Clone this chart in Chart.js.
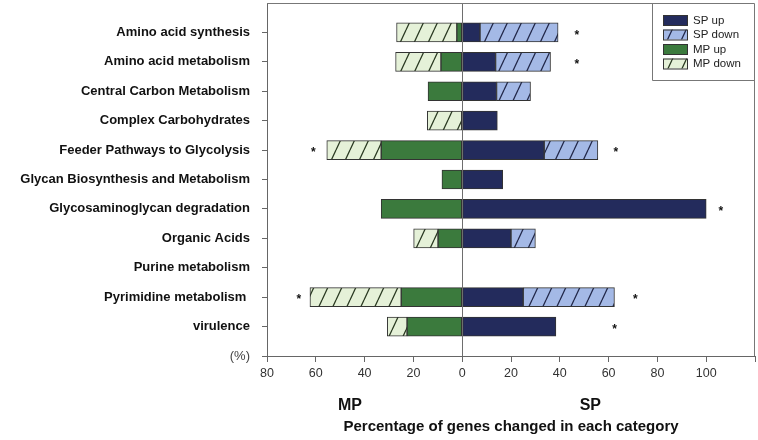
<!DOCTYPE html>
<html>
<head>
<meta charset="utf-8">
<script src="https://cdn.jsdelivr.net/npm/chart.js@4.4.0/dist/chart.umd.min.js"></script>
<style>
  body { margin: 0; background: #fff; }
  #wrap { width: 758px; height: 440px; }
</style>
</head>
<body>
<div id="wrap"><canvas id="chart" width="758" height="440"></canvas></div>
<script>
// categories (top to bottom)
const categories = [
    'Amino acid synthesis', 'Amino acid metabolism', 'Central Carbon Metabolism',
    'Complex Carbohydrates', 'Feeder Pathways to Glycolysis', 'Glycan Biosynthesis and Metabolism',
    'Glycosaminoglycan degradation', 'Organic Acids', 'Purine metabolism',
    'Pyrimidine metabolism ', 'virulence'
];

// % of genes, SP side (right)
const spUp   = [7.3, 13.7, 14.1, 14.4, 33.6, 16.6, 100, 20, null, 25, 38.4];
const spDown = [32, 22.5, 13.9, null, 22, null, null, 10, null, 37.4, null];
// % of genes, MP side (left, plotted negative)
const mpUp   = [2.2, 8.7, 14, null, 33.2, 8.3, 33.2, 9.9, null, 25, 22.6];
const mpDown = [24.7, 18.6, null, 14.3, 22.3, null, null, 10, null, 37.4, 8.1];

// significance marks (x position of the *)
const spStar = [47, 47, null, null, 63, null, 106, null, null, 71, 62.5];
const mpStar = [null, null, null, null, -61, null, null, null, null, -67, null];

const xTicks = [-80, -60, -40, -20, 0, 20, 40, 60, 80, 100];

const FONT = '"Liberation Sans", Arial, sans-serif';
const canvas = document.getElementById('chart');
const mainCtx = canvas.getContext('2d');

// motif hachuré "/"
function makeHatch(bg, line) {
    const w = 14, h = 30;
    const c = document.createElement('canvas');
    c.width = w; c.height = h;
    const g = c.getContext('2d');
    g.fillStyle = bg;
    g.fillRect(0, 0, w, h);
    g.strokeStyle = line;
    g.lineWidth = 1.3;
    g.beginPath();
    [-w, 0, w].forEach(o => { g.moveTo(o, h); g.lineTo(o + w, 0); });
    g.stroke();
    return mainCtx.createPattern(c, 'repeat');
}

const colSpUp = '#232b5c';
const colSpDown = makeHatch('#a4b9e6', '#22284a');
const colMpUp = '#3b7a3d';
const colMpDown = makeHatch('#e5f1d8', '#2a3a22');

const legendItems = [
    { label: 'SP up', color: colSpUp },
    { label: 'SP down', color: colSpDown },
    { label: 'MP up', color: colMpUp },
    { label: 'MP down', color: colMpDown }
];

const labels = [''].concat(categories, ['(%)']);
const pad = arr => [null].concat(arr, [null]);
const neg = arr => arr.map(v => v === null ? null : -v);

const extras = {
    id: 'extras',
    afterDatasetsDraw(chart) {
        const { ctx, chartArea: a, scales: { x } } = chart;
        const zx = Math.floor(x.getPixelForValue(0)) + 0.5;
        ctx.save();
        ctx.strokeStyle = '#6e6e6e';
        ctx.lineWidth = 1;
        ctx.beginPath();
        ctx.moveTo(zx, a.top);
        ctx.lineTo(zx, a.bottom);
        ctx.stroke();
        ctx.restore();
    },
    afterDraw(chart) {
        const { ctx, chartArea: a, scales: { x, y } } = chart;
        ctx.save();
        // cadre haut et droite
        ctx.strokeStyle = '#777';
        ctx.lineWidth = 1;
        ctx.beginPath();
        ctx.moveTo(a.left, a.top + 0.5);
        ctx.lineTo(a.right - 0.5, a.top + 0.5);
        ctx.lineTo(a.right - 0.5, a.bottom);
        ctx.stroke();

        // astérisques
        ctx.fillStyle = '#111';
        ctx.font = 'bold 12px ' + FONT;
        ctx.textAlign = 'center';
        ctx.textBaseline = 'middle';
        categories.forEach((c, i) => {
            const yy = y.getPixelForValue(i + 1) + 3;
            [spStar[i], mpStar[i]].forEach(v => {
                if (v !== null) ctx.fillText('*', x.getPixelForValue(v), yy);
            });
        });

        // MP / SP
        ctx.fillStyle = '#111';
        ctx.font = 'bold 16px ' + FONT;
        ctx.fillText('MP', x.getPixelForValue(-46), 406);
        ctx.fillText('SP', x.getPixelForValue(52.5), 406);

        // légende
        const lx = 652;
        const lb = 80;
        ctx.fillStyle = '#fff';
        ctx.fillRect(lx + 1, a.top + 1, a.right - lx - 2, lb - a.top - 1);
        ctx.strokeStyle = '#777';
        ctx.beginPath();
        ctx.moveTo(lx + 0.5, a.top);
        ctx.lineTo(lx + 0.5, lb + 0.5);
        ctx.lineTo(a.right, lb + 0.5);
        ctx.stroke();
        ctx.font = '11.5px ' + FONT;
        ctx.textAlign = 'left';
        legendItems.forEach((it, i) => {
            const cy = 20 + i * 14.5;
            ctx.fillStyle = it.color;
            ctx.fillRect(663, cy - 5, 24, 10);
            ctx.strokeStyle = '#333';
            ctx.strokeRect(663.5, cy - 4.5, 24, 10);
            ctx.fillStyle = '#222';
            ctx.fillText(it.label, 693, cy + 0.5);
        });
        ctx.restore();
    }
};

const common = { borderColor: '#333', borderWidth: 1, borderSkipped: false, barThickness: 19 };

new Chart(mainCtx, {
    type: 'bar',
    data: {
        labels: labels,
        datasets: [
            Object.assign({ label: 'SP up', data: pad(spUp), backgroundColor: colSpUp }, common),
            Object.assign({ label: 'SP down', data: pad(spDown), backgroundColor: colSpDown }, common),
            Object.assign({ label: 'MP up', data: pad(neg(mpUp)), backgroundColor: colMpUp }, common),
            Object.assign({ label: 'MP down', data: pad(neg(mpDown)), backgroundColor: colMpDown }, common)
        ]
    },
    options: {
        indexAxis: 'y',
        responsive: false,
        animation: false,
        layout: { padding: { left: 0, right: 3, top: 3, bottom: 0 } },
        plugins: {
            legend: { display: false },
            tooltip: { enabled: false }
        },
        scales: {
            x: {
                stacked: true,
                min: -80,
                max: 120,
                afterFit: s => { s.height = 84; s.paddingRight = 0; },
                afterBuildTicks: s => { s.ticks = xTicks.concat([120]).map(v => ({ value: v })); },
                ticks: {
                    autoSkip: false,
                    maxRotation: 0,
                    padding: 4,
                    color: '#333',
                    font: { family: FONT, size: 12.5 },
                    callback: v => v === 120 ? '' : String(Math.abs(v))
                },
                grid: {
                    color: 'transparent',
                    tickColor: '#666',
                    tickLength: 6
                },
                border: { color: '#666' },
                title: {
                    display: true,
                    text: 'Percentage of genes changed in each category',
                    color: '#111',
                    font: { family: FONT, size: 15, weight: 'bold' },
                    padding: { top: 0, bottom: 4 }
                }
            },
            y: {
                stacked: true,
                offset: false,
                afterFit: s => { s.width = 267; s.paddingTop = 0; s.paddingBottom = 0; },
                ticks: {
                    autoSkip: false,
                    padding: 12,
                    color: ctx => ctx.index === 12 ? '#444' : '#111',
                    font: ctx => ctx.index === 12
                        ? { family: FONT, size: 13 }
                        : { family: FONT, size: 13, weight: 'bold' }
                },
                grid: {
                    offset: false,
                    drawOnChartArea: false,
                    tickLength: 5,
                    tickColor: ctx => ctx.index === 0 ? 'transparent' : '#666'
                },
                border: { color: '#666' }
            }
        }
    },
    plugins: [extras]
});
</script>
</body>
</html>
